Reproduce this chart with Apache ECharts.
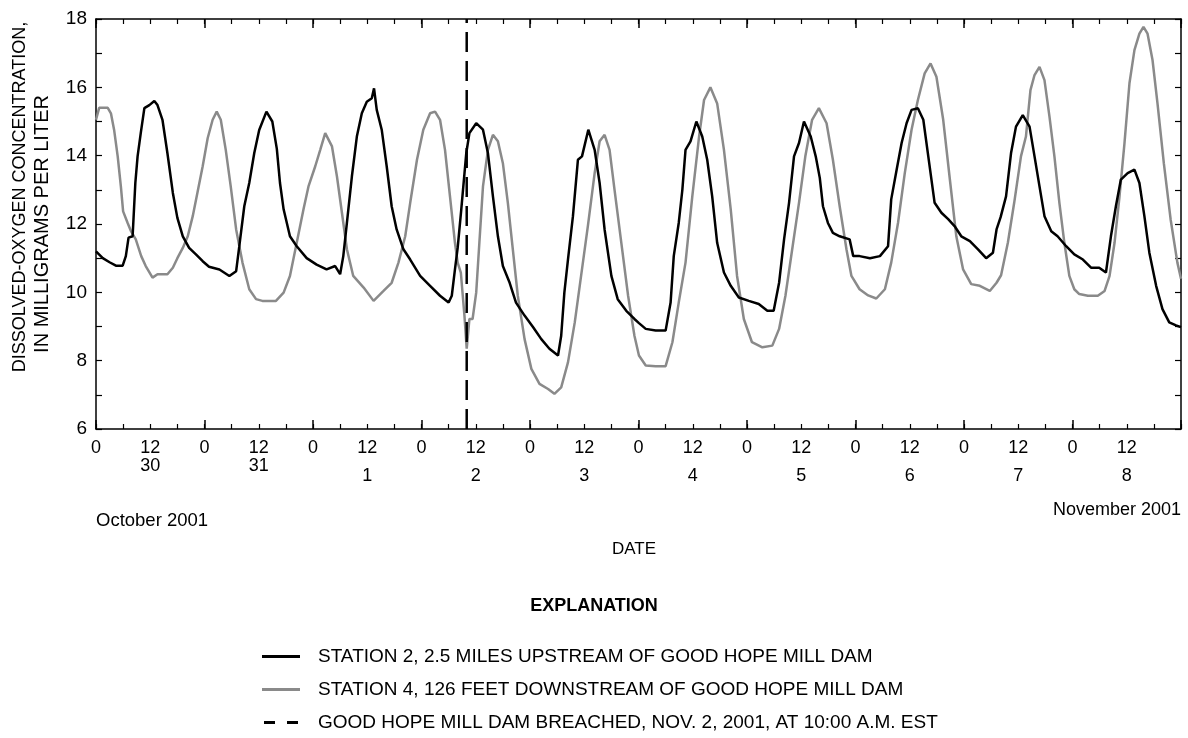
<!DOCTYPE html>
<html>
<head>
<meta charset="utf-8">
<script src="https://cdn.jsdelivr.net/npm/echarts@6/dist/echarts.min.js"></script>
<style>
html,body{margin:0;padding:0;background:#fff;}
#chart{width:1188px;height:738px;}
</style>
</head>
<body>
<div id="chart"></div>
<script>
// Hours since Oct 30, 2001 00:00
const station2Hours = [0,1.5,3,4.4,5.9,6.6,7.2,8.1,8.7,9.2,9.9,10.7,11.8,12.9,13.6,14.7,15.8,17,18,19.2,20.6,22.1,23.6,25,27.3,29.5,31,31.7,32.8,33.9,35,36.1,37.7,39,40,40.7,41.5,42.9,44.4,46.6,48.8,51,52.9,54,54.7,55.5,56.6,57.7,58.8,59.9,61,61.5,62.1,63.2,64.3,65.4,66.5,68,69.5,71.7,73.9,76.1,78,78.7,79.4,80,80.8,81.9,82.6,84.1,85.6,86.7,87.8,88.9,90,91.5,92.9,94.8,96.7,98.5,100.3,102.2,102.9,103.6,104.4,105.5,106.6,107.5,108.9,110.3,111.4,112.5,114,115.4,117.3,119.1,120.1,121.6,123.8,126,127.1,127.8,128.9,129.7,130.4,131.5,132.8,134.1,135.2,136.3,137.4,138.9,140.4,142.2,144.4,146.6,148.5,149.9,151.1,152.2,153.3,154.4,155.5,156.6,158.1,159.2,160.1,160.8,161.9,163,164.5,166.7,167.5,168.9,171.2,173.4,175.2,175.9,177.1,178.2,179.3,180.4,181.8,183,184.1,185.5,187,188.5,189.9,191.4,193.3,195.1,196.9,198.4,199.2,200.1,201.3,202.4,203.5,205,206.5,207.6,208.7,209.8,211.3,212.7,214.6,216.4,218.3,220.1,221.9,223.4,224.5,225.6,226.7,228.2,229.7,230.8,231.9,233,234.5,235.9,237.4,238.9,240];
const station2Values = [11.2,11.0,10.88,10.78,10.78,11.06,11.6,11.64,13.2,13.98,14.66,15.39,15.48,15.6,15.48,15.05,14.07,12.91,12.18,11.64,11.3,11.11,10.91,10.75,10.67,10.48,10.62,11.35,12.52,13.2,14.07,14.75,15.29,15.0,14.2,13.2,12.43,11.64,11.35,11.0,10.81,10.67,10.77,10.53,11.06,12.03,13.39,14.56,15.24,15.58,15.68,15.97,15.34,14.76,13.69,12.52,11.84,11.26,10.96,10.48,10.19,9.9,9.7,9.9,10.67,11.3,12.43,14.07,14.66,14.95,14.76,14.07,12.81,11.64,10.77,10.28,9.7,9.32,8.98,8.63,8.35,8.15,8.73,9.99,10.96,12.23,13.88,13.98,14.76,14.17,13.2,11.84,10.48,9.8,9.46,9.22,9.1,8.93,8.88,8.88,9.7,11.06,12.03,13.0,14.17,14.42,15.0,14.56,13.88,12.81,11.45,10.58,10.19,9.85,9.75,9.66,9.46,9.46,10.28,11.55,12.62,13.98,14.37,15.0,14.56,13.98,13.35,12.52,12.03,11.74,11.64,11.55,11.06,11.06,11.0,11.06,11.35,12.72,13.59,14.37,14.95,15.34,15.39,15.05,13.98,12.62,12.33,12.14,11.94,11.64,11.5,11.26,11.0,11.16,11.84,12.2,12.81,14.07,14.85,15.19,14.85,13.98,13.1,12.23,11.79,11.64,11.35,11.11,10.96,10.72,10.72,10.58,11.64,12.52,13.3,13.49,13.59,13.2,12.23,11.16,10.19,9.51,9.12,9.03,8.98];

const station4Hours = [0,0.7,2.6,3.3,4,4.8,5.5,6,7,7.7,8.8,10,11,12.5,13.6,15.8,17,18,19.2,20.3,21.4,22.5,23.6,24.7,25.8,26.7,27.6,28.7,29.8,31,32.4,33.9,35.4,36.8,39.8,41.5,42.9,44.4,45.9,47,48.5,49.6,50.7,52.2,53.3,54.4,55.5,56.9,59.2,61.4,63.6,65.4,66.9,68.4,69.5,71,72.4,73.9,75,76.1,77.2,78.3,79.4,80,80.7,81.5,82,82.6,83.3,84.1,84.8,85.6,86.7,87.8,88.9,90,91.1,92.2,93.3,94.8,96.3,98.1,100,101.4,102.9,104.4,105.9,107.3,108.8,110.3,111.4,112.5,113.6,114.7,116.2,117.7,119.1,120.1,121.6,123.8,126,127.5,128.9,130.4,131.9,133.4,134.5,135.9,137.4,138.9,140.4,141.8,143.3,145.1,147.4,149.6,151.1,152.5,154,155.5,156.9,158.4,159.9,161.6,163,164.5,166,167.1,168.9,170.8,172.6,174.5,175.9,177.4,178.9,180.4,181.8,183.3,184.6,185.9,187.4,188.8,190.3,191.8,193.6,195.5,197.7,199.2,200.2,201.7,203.1,204.6,205.7,206.7,207.6,208.7,209.8,210.9,212,213.1,214.2,215.3,216.4,217.5,219.4,221.6,223.1,224.2,225.3,226.4,227.5,228.6,229.7,230.8,231.7,232.6,233.7,234.8,236.2,237.7,239.2,240];
const station4Values = [15.05,15.4,15.4,15.24,14.76,13.98,13.1,12.37,12.03,11.8,11.55,11.06,10.77,10.43,10.53,10.53,10.72,11.0,11.3,11.64,12.23,12.96,13.69,14.51,15.05,15.29,15.05,14.17,13.1,11.84,10.87,10.09,9.8,9.75,9.75,9.99,10.48,11.45,12.43,13.1,13.69,14.17,14.66,14.27,13.39,12.33,11.26,10.48,10.14,9.75,10.04,10.28,10.87,11.64,12.62,13.88,14.76,15.24,15.29,15.05,14.17,12.81,11.45,10.87,10.58,9.32,8.35,9.22,9.22,9.99,11.45,13.1,14.17,14.61,14.42,13.78,12.62,11.26,9.9,8.63,7.76,7.32,7.17,7.03,7.22,7.95,9.12,10.48,11.94,13.49,14.42,14.61,14.17,13.0,11.45,9.9,8.73,8.15,7.86,7.84,7.84,8.54,9.7,10.87,12.81,14.56,15.63,16.0,15.53,14.17,12.43,10.48,9.22,8.54,8.39,8.44,8.93,9.9,11.26,12.62,13.98,15.05,15.39,14.95,13.88,12.52,11.26,10.48,10.09,9.91,9.82,10.09,10.87,12.03,13.49,14.76,15.63,16.41,16.7,16.31,15.05,13.39,11.64,10.67,10.24,10.19,10.04,10.28,10.5,11.45,12.62,13.98,14.56,15.92,16.36,16.6,16.21,15.15,13.98,12.62,11.45,10.48,10.09,9.95,9.9,9.9,10.04,10.48,11.45,12.81,14.37,16.12,17.09,17.57,17.77,17.57,16.8,15.53,13.78,12.14,10.87,10.4];

const breachHour = 82; // Nov. 2, 2001, 10:00 a.m.
const hourLabels = ['0','12'];
const dayLabels = ['30','31','1','2','3','4','5','6','7','8'];
const octoberDays = 2; // first two day labels belong to October

const seriesNames = [
  'STATION 2, 2.5 MILES UPSTREAM OF GOOD HOPE MILL DAM',
  'STATION 4, 126 FEET DOWNSTREAM OF GOOD HOPE MILL DAM',
  'GOOD HOPE MILL DAM BREACHED, NOV. 2, 2001, AT 10:00 A.M. EST'
];
const yTitleLines = ['DISSOLVED-OXYGEN CONCENTRATION,', 'IN MILLIGRAMS PER LITER'];

const pairs = (hs, vs) => hs.map((h, i) => [h, vs[i]]);

const FONT = '"Liberation Sans", Arial, sans-serif';
const AX = '#000';
const GRAY = '#8a8a8a';

function xLabel(v) {
  if (v >= 240) return '';
  const h = v % 24;
  const d = Math.floor(v / 24);
  if (h === 0) return hourLabels[0];
  const day = dayLabels[d];
  if (d < octoberDays) return hourLabels[1] + '\n{oct|' + day + '}';
  return hourLabels[1] + '\n{nov|' + day + '}';
}

const baseX = {
  type: 'value', min: 0, max: 240, gridIndex: 0,
  splitLine: { show: false }
};
const txt = (size, extra) => Object.assign({ fontFamily: FONT, fontSize: size, fontWeight: 'normal', color: '#000' }, extra || {});

const chart = echarts.init(document.getElementById('chart'), null, { renderer: 'canvas' });
chart.setOption({
  animation: false,
  backgroundColor: '#fff',
  textStyle: { fontFamily: FONT, color: '#000' },
  grid: { left: 96, right: 7, top: 19, bottom: 309, containLabel: false, outerBoundsMode: 'none' },
  title: [
    { text: 'October 2001', left: 96, top: 511, padding: 0, textStyle: txt(18.5) },
    { text: 'November 2001', right: 7, top: 501, padding: 0, textStyle: txt(18) },
    { text: 'DATE', left: 612, top: 541, padding: 0, textStyle: txt(17) },
    { text: 'EXPLANATION', left: 'center', top: 597, padding: 0, textStyle: txt(18, { fontWeight: 'bold' }) }
  ],
  legend: {
    orient: 'vertical', left: 262, top: 647, itemWidth: 38, itemHeight: 3, itemGap: 14, padding: 0,
    textStyle: txt(19, { padding: [0, 0, 0, 13] }),
    data: [
      { name: seriesNames[0], icon: 'rect', itemStyle: { color: '#000' } },
      { name: seriesNames[1], icon: 'rect', itemStyle: { color: GRAY } },
      { name: seriesNames[2], icon: 'path://M0,0h11v3h-11z M23,0h11v3h-11z', itemStyle: { color: '#000' } }
    ]
  },
  xAxis: [
    Object.assign({}, baseX, {
      position: 'bottom', interval: 12,
      axisLine: { show: true, onZero: false, lineStyle: { color: AX, width: 1.5 } },
      axisTick: { show: true, inside: true, length: 5, lineStyle: { color: AX, width: 1.2 } },
      minorTick: { show: true, splitNumber: 2, length: 5, lineStyle: { color: AX, width: 1.2 } },
      axisLabel: {
        show: true, margin: 10, fontFamily: FONT, fontSize: 18, color: '#000', lineHeight: 18,
        showMaxLabel: false, formatter: xLabel,
        rich: {
          oct: { fontFamily: FONT, fontSize: 18, color: '#000', lineHeight: 18 },
          nov: { fontFamily: FONT, fontSize: 18, color: '#000', lineHeight: 18, padding: [21, 0, 0, 0] }
        }
      }
    }),
    Object.assign({}, baseX, {
      position: 'bottom', interval: 24,
      axisLine: { show: false, onZero: false },
      axisTick: { show: true, inside: true, length: 9, lineStyle: { color: AX, width: 1.5 } },
      axisLabel: { show: false }
    }),
    Object.assign({}, baseX, {
      position: 'top', interval: 12,
      axisLine: { show: true, onZero: false, lineStyle: { color: AX, width: 1.5 } },
      axisTick: { show: true, inside: true, length: 5, lineStyle: { color: AX, width: 1.2 } },
      minorTick: { show: true, splitNumber: 2, length: 5, lineStyle: { color: AX, width: 1.2 } },
      axisLabel: { show: false }
    }),
    Object.assign({}, baseX, {
      position: 'top', interval: 24,
      axisLine: { show: false, onZero: false },
      axisTick: { show: true, inside: true, length: 9, lineStyle: { color: AX, width: 1.5 } },
      axisLabel: { show: false }
    })
  ],
  yAxis: [
    {
      type: 'value', min: 6, max: 18, interval: 2, position: 'left',
      name: '{a|' + yTitleLines[0] + '}\n{b|' + yTitleLines[1] + '}',
      nameLocation: 'middle', nameGap: 43, nameRotate: 90,
      nameTextStyle: {
        fontFamily: FONT, fontSize: 18, color: '#000', lineHeight: 22,
        rich: {
          a: { fontFamily: FONT, fontSize: 18, color: '#000', lineHeight: 22, padding: [0, 0, 0, 54] },
          b: { fontFamily: FONT, fontSize: 20, color: '#000', lineHeight: 22 }
        }
      },
      splitLine: { show: false },
      axisLine: { show: true, onZero: false, lineStyle: { color: AX, width: 1.5 } },
      axisTick: { show: true, inside: true, length: 6, lineStyle: { color: AX, width: 1.2 } },
      minorTick: { show: true, splitNumber: 2, length: 6, lineStyle: { color: AX, width: 1.2 } },
      axisLabel: { margin: 9, fontFamily: FONT, fontSize: 19, color: '#000' }
    },
    {
      type: 'value', min: 6, max: 18, interval: 2, position: 'right',
      splitLine: { show: false },
      axisLine: { show: true, onZero: false, lineStyle: { color: AX, width: 1.5 } },
      axisTick: { show: true, inside: true, length: 6, lineStyle: { color: AX, width: 1.2 } },
      minorTick: { show: true, splitNumber: 2, length: 6, lineStyle: { color: AX, width: 1.2 } },
      axisLabel: { show: false }
    }
  ],
  series: [
    {
      name: seriesNames[1], type: 'line', xAxisIndex: 0, yAxisIndex: 0,
      data: pairs(station4Hours, station4Values),
      symbol: 'none', smooth: false, z: 2,
      lineStyle: { color: GRAY, width: 2.5 }, itemStyle: { color: GRAY }
    },
    {
      name: seriesNames[0], type: 'line', xAxisIndex: 0, yAxisIndex: 0,
      data: pairs(station2Hours, station2Values),
      symbol: 'none', smooth: false, z: 3,
      lineStyle: { color: '#000', width: 2.5 }, itemStyle: { color: '#000' }
    },
    {
      name: seriesNames[2], type: 'line', xAxisIndex: 0, yAxisIndex: 0,
      data: [[breachHour, 6], [breachHour, 18]],
      symbol: 'none', z: 4,
      lineStyle: { color: '#000', width: 2.5, type: [20, 9] }, itemStyle: { color: '#000' }
    }
  ]
});
</script>
</body>
</html>
